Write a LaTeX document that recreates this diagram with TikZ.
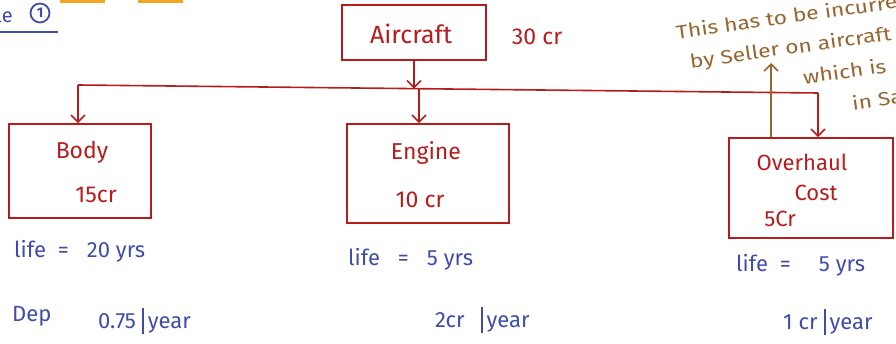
\documentclass[tikz,border=0pt]{standalone}
\usepackage{fontspec}
\setmainfont{Fira Sans}
\newfontfamily\notefont{Fira Sans}[FakeStretch=1.2]
\usetikzlibrary{arrows.meta,calc}
\definecolor{redink}{HTML}{B71C1C}
\definecolor{blueink}{HTML}{3F4DA8}
\definecolor{brownink}{HTML}{98652F}
\definecolor{orangebar}{HTML}{F5A51E}
\newcommand{\perbar}{\hspace{6pt}\rule[-6pt]{2pt}{26pt}\hspace{4pt}}
\begin{document}
\begin{tikzpicture}[x=1pt,y=-1pt,
  box/.style={draw=redink, line width=1.6pt, rectangle, inner sep=0pt},
  redtxt/.style={text=redink, font=\fontsize{23}{26}\selectfont, inner sep=0pt},
  bluetxt/.style={text=blueink, font=\fontsize{22}{26}\selectfont, inner sep=0pt, anchor=west},
  browntxt/.style={text=brownink, font=\notefont\fontsize{19}{22}\selectfont, inner sep=0pt, anchor=west, rotate=8},
  conn/.style={draw=redink, line width=1.6pt},
  tip/.style={-{Straight Barb[length=7pt,width=14pt,line width=1.6pt]}}
]
\useasboundingbox (0,0) rectangle (896,344);
\clip (0,0) rectangle (896,344);

% top-left remnants
\fill[orangebar] (60,0) rectangle (105,3);
\fill[orangebar] (138,0) rectangle (183,3);
\node[text=blueink, font=\fontsize{20}{22}\selectfont, anchor=east, inner sep=0pt] (ex) at (13,15) {le};
\node[draw=blueink, line width=1.8pt, circle, minimum size=19pt, inner sep=0pt, text=blueink, font=\fontsize{14}{16}\selectfont\bfseries] (one) at (40,13) {1};
\draw[blueink, line width=1.6pt] (0,32) -- (58,32);

% boxes
\node[box, minimum width=144pt, minimum height=55pt] (ac) at (414,32.5) {};
\node[box, minimum width=142pt, minimum height=94pt] (body) at (80,171) {};
\node[box, minimum width=162pt, minimum height=99pt] (en) at (428,173.5) {};
\node[box, minimum width=164pt, minimum height=100pt] (ov) at (811,188) {};

% red texts
\node[redtxt, font=\fontsize{25}{28}\selectfont] (actxt) at (411,34) {Aircraft};
\node[redtxt] (accost) at (537,37) {30 cr};
\node[redtxt] (bodytxt) at (82,152) {Body};
\node[redtxt] (bodycost) at (96,195) {15cr};
\node[redtxt] (entxt) at (426,153) {Engine};
\node[redtxt] (encost) at (420,200) {10 cr};
\node[redtxt, font=\fontsize{22}{26}\selectfont] (ovtxt) at (802,162) {Overhaul};
\node[redtxt, font=\fontsize{22}{26}\selectfont] (ovtxt2) at (816,193) {Cost};
\node[redtxt, font=\fontsize{22}{26}\selectfont] (ovcost) at (780,219) {5Cr};

% bus and connectors
\coordinate (busL) at (78,85);
\coordinate (busR) at (818,93);
\coordinate (busM) at ($(busL)!0.4608!(busR)$);
\draw[conn] (busL) -- (busR);
\draw[conn, tip] (ac.south) -- (ac.south |- busM);
\draw[conn, tip] (busL) -- (busL |- body.north);
\draw[conn, tip] (busM) -- (busM |- en.north);
\draw[conn, tip] (busR) -- (busR |- ov.north);

% brown note
\coordinate (brtop) at (771,63);
\draw[brownink, line width=1.6pt, -{Straight Barb[length=7pt,width=14pt,line width=1.6pt]}] (brtop |- ov.north) -- (brtop);
\node[browntxt] (n1) at (676,32) {This has to be incurred};
\node[browntxt] (n2) at (690,63) {by Seller on aircraft};
\node[browntxt] (n3) at (803,77) {which is};
\node[browntxt] (n4) at (852,103) {in Sale};

% blue notes
\node[bluetxt] (l1) at (14,251) {life\hspace{12pt}=\hspace{18pt}20 yrs};
\node[bluetxt] (dep) at (12,316) {Dep};
\node[bluetxt] (d1) at (98,321) {0.75\perbar year};
\node[bluetxt] (l2) at (348,259) {life\hspace{18pt}=\hspace{18pt}5 yrs};
\node[bluetxt] (d2) at (435,320) {2cr\hspace{10pt}\perbar year};
\node[bluetxt] (l3) at (736,265) {life\hspace{12pt}=\hspace{28pt}5 yrs};
\node[bluetxt] (d3) at (783,322) {1 cr\perbar year};
\end{tikzpicture}
\end{document}
